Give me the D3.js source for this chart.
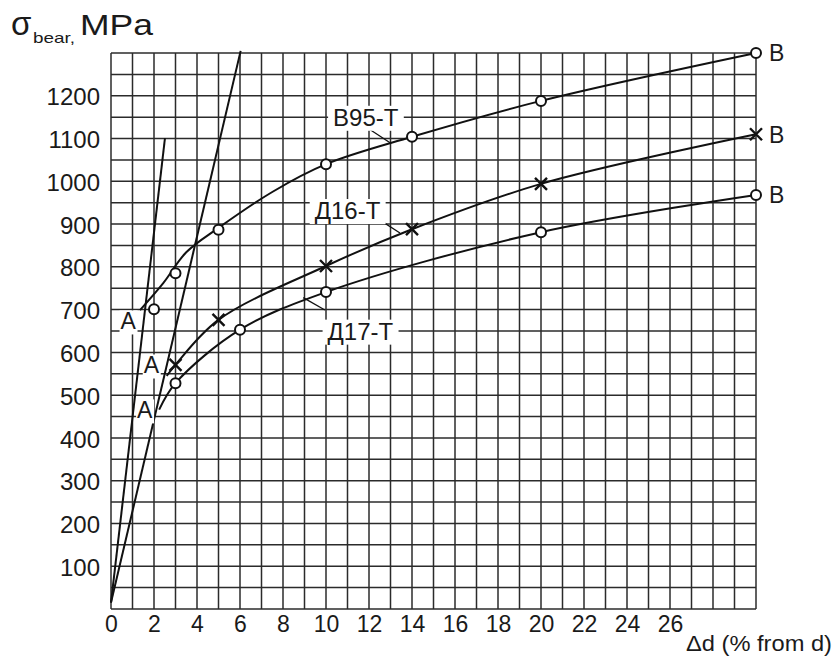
<!DOCTYPE html>
<html lang="ru">

<head>
    <meta charset="UTF-8">
    <title>Bearing stress</title>
    <style>
        body {
            margin: 0;
            background: #fff;
        }

        svg text {
            font-family: "Liberation Sans", Arial, sans-serif;
            fill: #1a1a1a;
        }

        .axis path,
        .axis line {
            display: none;
        }
    </style>
</head>

<body>
    <div id="graph"></div>

    <script src="https://cdnjs.cloudflare.com/ajax/libs/d3/7.0.0/d3.min.js"></script>

    <script>
        // values (x = Δd in %, y = σ in MPa)
        var xTicks = [0, 2, 4, 6, 8, 10, 12, 14, 16, 18, 20, 22, 24, 26];
        var yTicks = [100, 200, 300, 400, 500, 600, 700, 800, 900, 1000, 1100, 1200];

        var b95Curve = [[1.35, 699], [2.43, 762], [3.5, 834], [5, 891], [7.5, 975], [10, 1040], [14, 1104], [20, 1188], [30, 1300]];
        var b95Points = [[2, 701], [3, 785], [5, 887], [10, 1040], [14, 1104], [20, 1188], [30, 1300]];

        var d16Curve = [[2.59, 545], [3, 571], [5, 676], [10, 802], [14, 888], [20, 994], [30, 1110]];
        var d16Points = [[3, 571], [5, 676], [10, 802], [14, 888], [20, 994], [30, 1110]];

        var d17Curve = [[2.24, 466], [3, 528], [6, 653], [10, 741], [20, 881], [30, 968]];
        var d17Points = [[3, 528], [6, 653], [10, 741], [20, 881], [30, 968]];

        // the two straight elastic lines from the origin
        var line1 = [[0, 15], [2.51, 1101]];
        var line2 = [[0, 15], [6.03, 1305]];

        var curveNames = ["В95-Т", "Д16-Т", "Д17-Т"];

        var W = 838, H = 657;
        var margin = { left: 111, right: 756, top: 53, bottom: 609 };

        var svg = d3.select("#graph").append("svg")
            .attr("width", W)
            .attr("height", H);

        var x = d3.scaleLinear().domain([0, 30]).range([margin.left, margin.right]);
        var y = d3.scaleLinear().domain([0, 1300]).range([margin.bottom, margin.top]);

        // square grid: 1 % by 50 MPa
        var grid = svg.append("g").attr("stroke", "#2b2b2b").attr("stroke-width", 1.5);
        grid.selectAll(".v").data(d3.range(0, 31)).enter().append("line")
            .attr("x1", d => x(d)).attr("x2", d => x(d))
            .attr("y1", y(0)).attr("y2", y(1300));
        grid.selectAll(".h").data(d3.range(0, 1301, 50)).enter().append("line")
            .attr("y1", d => y(d)).attr("y2", d => y(d))
            .attr("x1", x(0)).attr("x2", x(30));

        var xAxis = d3.axisBottom(x).tickValues(xTicks).tickSize(0).tickPadding(7);
        var yAxis = d3.axisLeft(y).tickValues(yTicks).tickFormat(d3.format("d")).tickSize(0).tickPadding(11);

        svg.append("g")
            .attr("class", "x axis")
            .attr("transform", "translate(0," + margin.bottom + ")")
            .call(xAxis)
            .selectAll("text")
            .style("font-size", "23px")
            .attr("fill", "#1a1a1a");

        svg.append("g")
            .attr("class", "y axis")
            .attr("transform", "translate(" + margin.left + ",0)")
            .call(yAxis)
            .selectAll("text")
            .style("font-size", "24px")
            .attr("dy", "0.38em")
            .attr("fill", "#1a1a1a");

        var line = d3.line().x(d => x(d[0])).y(d => y(d[1]));
        var smooth = d3.line().curve(d3.curveCatmullRom.alpha(0.5)).x(d => x(d[0])).y(d => y(d[1]));

        var ink = svg.append("g")
            .attr("fill", "none")
            .attr("stroke", "#111")
            .attr("stroke-width", 2);

        ink.append("path").datum(line1).attr("d", line);
        ink.append("path").datum(line2).attr("d", line);
        [b95Curve, d16Curve, d17Curve].forEach(function (c) {
            ink.append("path").datum(c).attr("d", smooth);
        });

        // leader lines from the names to their curves
        var leaders = [
            [[11.95, 1124], [12.98, 1090]],
            [[12.37, 914], [13.44, 879]],
            [[8.94, 728], [9.95, 699]]
        ];
        leaders.forEach(function (l) {
            ink.append("path").datum(l).attr("d", line).attr("stroke-width", 1.3);
        });

        // labels with white boxes behind them
        function boxedLabel(text, cx, cy, size, pad) {
            var g = svg.append("g");
            var t = g.append("text")
                .attr("x", cx).attr("y", cy)
                .attr("text-anchor", "middle")
                .attr("dy", "0.36em")
                .style("font-size", size + "px")
                .text(text);
            var bb = t.node().getBBox();
            g.insert("rect", "text")
                .attr("x", bb.x - pad).attr("y", bb.y + 2)
                .attr("width", bb.width + pad * 2).attr("height", bb.height - 2)
                .attr("fill", "#fff");
        }

        var namePos = [[11.85, 1150], [11.0, 932], [11.6, 650]];
        curveNames.forEach(function (n, i) {
            boxedLabel(n, x(namePos[i][0]), y(namePos[i][1]), 24, 5);
        });

        var aPos = [[0.8, 673], [1.88, 570], [1.57, 465]];
        aPos.forEach(function (p) {
            boxedLabel("А", x(p[0]), y(p[1]), 23, 1);
        });

        [b95Points, d16Points, d17Points].forEach(function (pts) {
            var last = pts[pts.length - 1];
            svg.append("text")
                .attr("x", x(last[0]) + 13)
                .attr("y", y(last[1]))
                .attr("dy", "0.36em")
                .style("font-size", "23px")
                .text("В");
        });

        // markers
        [b95Points, d17Points].forEach(function (pts) {
            svg.append("g").selectAll("circle").data(pts).enter().append("circle")
                .attr("cx", d => x(d[0]))
                .attr("cy", d => y(d[1]))
                .attr("r", 5)
                .attr("fill", "#fff")
                .attr("stroke", "#111")
                .attr("stroke-width", 2);
        });

        var s = 6;
        svg.append("g").selectAll("path").data(d16Points).enter().append("path")
            .attr("d", d => "M" + (x(d[0]) - s) + "," + (y(d[1]) - s) + "L" + (x(d[0]) + s) + "," + (y(d[1]) + s) +
                "M" + (x(d[0]) - s) + "," + (y(d[1]) + s) + "L" + (x(d[0]) + s) + "," + (y(d[1]) - s))
            .attr("stroke", "#111")
            .attr("stroke-width", 2.4);

        // axis titles
        svg.append("text").attr("x", 11).attr("y", 35)
            .style("font-size", "33px").text("σ");
        svg.append("text").attr("x", 33).attr("y", 43)
            .style("font-size", "15px")
            .attr("textLength", 42).attr("lengthAdjust", "spacingAndGlyphs")
            .text("bear,");
        svg.append("text").attr("x", 80).attr("y", 35)
            .style("font-size", "29px")
            .attr("textLength", 73).attr("lengthAdjust", "spacingAndGlyphs")
            .text("MPa");

        svg.append("text")
            .attr("x", 686)
            .attr("y", 651)
            .style("font-size", "22px")
            .attr("textLength", 146).attr("lengthAdjust", "spacingAndGlyphs")
            .text("Δd (% from d)");
    </script>
</body>

</html>
